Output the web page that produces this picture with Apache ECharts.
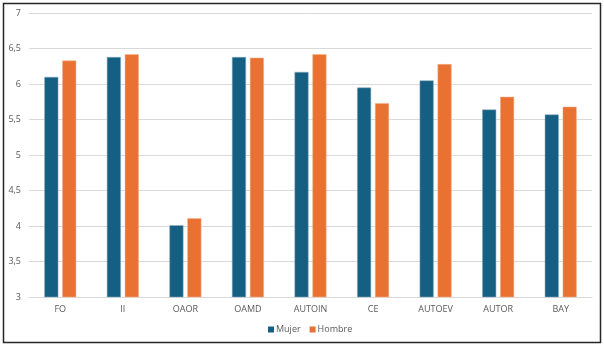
<!DOCTYPE html>
<html>
<head>
<meta charset="utf-8">
<script src="https://cdn.jsdelivr.net/npm/echarts@6/dist/echarts.min.js"></script>
<style>
html, body { margin: 0; padding: 0; background: #fff; }
#chart { width: 604px; height: 346px; }
</style>
</head>
<body>
<div id="chart"></div>
<script>
// 数据
var categories = ['FO', 'II', 'OAOR', 'OAMD', 'AUTOIN', 'CE', 'AUTOEV', 'AUTOR', 'BAY'];
var mujer = [6.10, 6.38, 4.01, 6.38, 6.17, 5.95, 6.05, 5.64, 5.57];
var hombre = [6.33, 6.42, 4.11, 6.37, 6.42, 5.73, 6.28, 5.82, 5.68];
var seriesNames = ['Mujer', 'Hombre'];
var yTicks = [3, 3.5, 4, 4.5, 5, 5.5, 6, 6.5, 7];
var myChartColor = ['#156082', '#E97132'];

var myChart = echarts.init(document.getElementById('chart'));
var font = '"Open Sans", sans-serif';
var option = {
	animation : false,
	color : myChartColor,
	textStyle : { fontFamily : font },
	graphic : [{
		type : 'rect',
		shape : { x : 3.5, y : 3.5, width : 597, height : 339 },
		style : { fill : 'none', stroke : '#262626', lineWidth : 1.5 }
	}],
	grid : { left : 29, right : 12, top : 13, bottom : 49 },
	legend : {
		data : seriesNames,
		bottom : 7,
		left : 263,
		itemWidth : 6,
		itemHeight : 6,
		itemGap : 9,
		icon : 'rect',
		itemStyle : { borderWidth : 0 },
		textStyle : { fontSize : 9, color : '#595959', fontFamily : font, padding : [0, 0, 0, -3] }
	},
	xAxis : {
		type : 'category',
		data : categories,
		axisTick : { show : false },
		axisLine : { lineStyle : { color : '#d9d9d9' } },
		axisLabel : { fontSize : 9, color : '#595959', margin : 8 }
	},
	yAxis : {
		type : 'value',
		min : yTicks[0],
		max : yTicks[yTicks.length - 1],
		interval : 0.5,
		axisLine : { show : false },
		axisTick : { show : false },
		splitLine : { lineStyle : { color : '#d9d9d9' } },
		axisLabel : {
			fontSize : 9,
			color : '#595959',
			margin : 8,
			formatter : function(v) { return String(v).replace('.', ','); }
		}
	},
	series : [{
		name : seriesNames[0],
		type : 'bar',
		data : mujer,
		barWidth : 14,
		barGap : '28%',
		itemStyle : { borderColor : '#8fa9c0', borderWidth : 0.5 }
	}, {
		name : seriesNames[1],
		type : 'bar',
		data : hombre,
		barWidth : 14,
		itemStyle : { borderColor : '#f4b48f', borderWidth : 0.5 }
	}]
};
myChart.setOption(option);
</script>
</body>
</html>
